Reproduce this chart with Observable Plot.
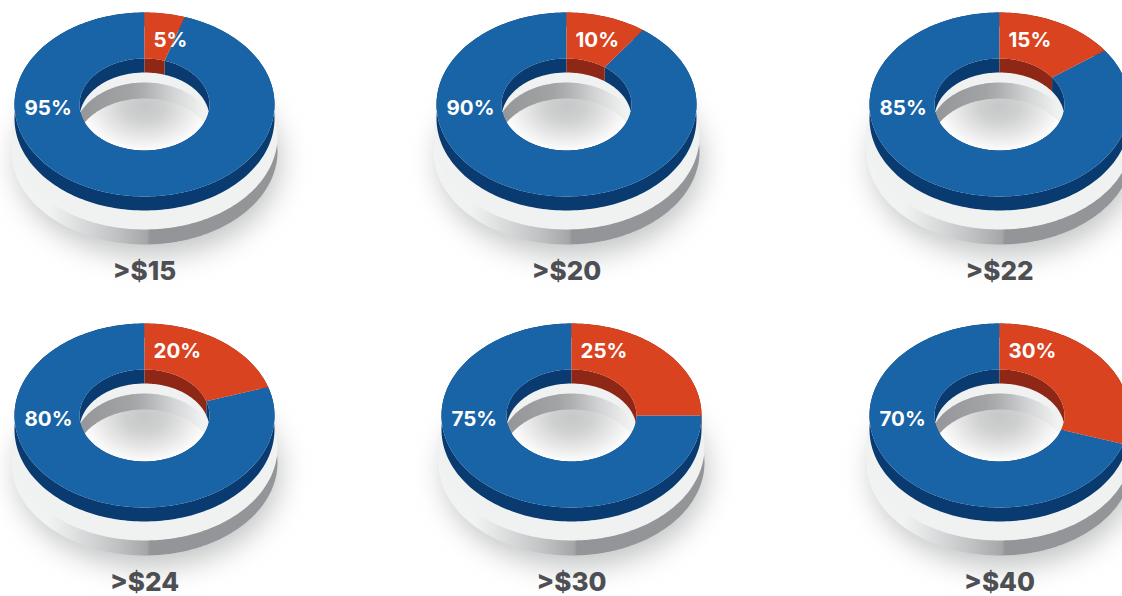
<!DOCTYPE html>
<html>
<head>
<meta charset="utf-8">
<script src="https://cdn.jsdelivr.net/npm/d3@7"></script>
<script src="https://cdn.jsdelivr.net/npm/@observablehq/plot@0.6"></script>
<style>html,body{margin:0;padding:0;background:#fff;overflow:hidden}svg{display:block}</style>
</head>
<body>
<script>
const thresholds = [">$15", ">$20", ">$22", ">$24", ">$30", ">$40"];
const abovePct = [5, 10, 15, 20, 25, 30];
const belowPct = [95, 90, 85, 80, 75, 70];

// layout of the small multiples
const centerX = [144, 566, 999, 144, 571, 999];
const centerY = [104, 104, 104, 415, 415, 415];
const RX = 130, RY = 92, IX = 65, IY = 46, DEPTH = 14;

function arc(cx, cy, a, b, from, to) {
  const n = Math.max(2, Math.ceil(Math.abs(to - from) / (Math.PI / 120)));
  return d3.range(n + 1).map(i => {
    const t = from + (to - from) * i / n;
    return {x: cx + a * Math.sin(t), y: cy - b * Math.cos(t)};
  });
}
const TAU = Math.PI * 2;
function ellipses(f) {
  return thresholds.flatMap((t, i) => {
    const e = f(centerX[i], centerY[i]);
    return arc(e[0], e[1], e[2], e[3], 0, TAU).map(p => ({...p, id: t}));
  });
}
const slices = thresholds.flatMap((t, i) => {
  const cut = abovePct[i] / (abovePct[i] + belowPct[i]) * TAU;
  return [
    {id: t + "a", kind: "above", cx: centerX[i], cy: centerY[i], a0: 0, a1: cut},
    {id: t + "b", kind: "below", cx: centerX[i], cy: centerY[i], a0: cut, a1: TAU}
  ];
});
const band = (s, a, b, cy0, a2, b2, cy1) =>
  [...arc(s.cx, cy0, a, b, s.a0, s.a1), ...arc(s.cx, cy1, a2, b2, s.a1, s.a0)]
    .map(p => ({...p, id: s.id, kind: s.kind}));
const topRows = slices.flatMap(s => band(s, RX, RY, s.cy, IX, IY, s.cy));
const outerSide = slices.flatMap(s => band(s, RX, RY, s.cy, RX, RY, s.cy + DEPTH));
const innerWall = slices.flatMap(s => band(s, IX, IY, s.cy, IX, IY, s.cy + DEPTH));

const shape = (data, fill, extra = {}) =>
  Plot.line(data, {x: "x", y: "y", z: "id", fill, stroke: "none", curve: "linear", ...extra});
const only = (data, kind) => data.filter(d => d.kind === kind);

const defs = () => {
  const svg = d3.create("svg:defs");
  const linear = (id, stops) => {
    const g = svg.append("linearGradient").attr("id", id);
    stops.forEach(([o, c]) => g.append("stop").attr("offset", o).attr("stop-color", c));
  };
  linear("baseSide", [[0, "#f1f2f2"], [0.14, "#f1f2f2"], [0.2, "#e6e7e7"], [0.4, "#c0c1c3"], [0.51, "#a4a6a8"], [0.52, "#939598"], [1, "#939598"]]);
  linear("holeWall", [[0, "#939598"], [0.4, "#a2a3a5"], [0.5, "#aeafb0"], [0.7, "#d2d3d4"], [0.92, "#f1f2f2"], [1, "#f1f2f2"]]);
  const r = svg.append("radialGradient").attr("id", "floor")
    .attr("cx", 0.5).attr("cy", 0.08).attr("r", 0.48);
  [[0, "#c6c7c8"], [0.3, "#cfd0d0"], [0.65, "#e9e9e9"], [0.95, "#ffffff"], [1, "#ffffff"]]
    .forEach(([o, c]) => r.append("stop").attr("offset", o).attr("stop-color", c));
  return svg.node();
};

const chart = Plot.plot({
  width: 1122, height: 596,
  margin: 0,
  style: {background: "#fff", overflow: "hidden"},
  x: {axis: null, domain: [0, 1122], range: [0, 1122]},
  y: {axis: null, domain: [0, 596], range: [0, 596]},
  marks: [
    defs,
    // soft shadow under the base
    shape(ellipses((x, y) => [x + 4, y + 56, 132, 96]), "#8a8b8d", {imageFilter: "blur(14px)", fillOpacity: 0.5}),
    // grey base
    shape(ellipses((x, y) => [x, y + 47, 133, 93]), "url(#baseSide)"),
    shape(ellipses((x, y) => [x, y + 32, 133, 93]), "#f0f2f2"),
    shape(ellipses((x, y) => [x, y + 28, 70, 50]), "url(#holeWall)"),
    shape(ellipses((x, y) => [x, y + 44, 70, 50]), "url(#floor)"),
    // blue / red ring
    shape(only(outerSide, "below"), "#0a3b70"),
    shape(only(outerSide, "above"), "#8e2716"),
    shape(only(innerWall, "below"), "#0a3b70"),
    shape(only(innerWall, "above"), "#8e2716"),
    shape(only(topRows, "below"), "#1964a7"),
    shape(only(topRows, "above"), "#d9431f"),
    // labels
    Plot.text(thresholds, {
      x: (d, i) => centerX[i] + 9, y: (d, i) => centerY[i] - 64,
      text: (d, i) => abovePct[i] + "%", textAnchor: "start", lineAnchor: "middle",
      fill: "#fff", fontFamily: "Inter", fontWeight: 700, fontSize: 20.5
    }),
    Plot.text(thresholds, {
      x: (d, i) => centerX[i] - 120, y: (d, i) => centerY[i] + 4,
      text: (d, i) => belowPct[i] + "%", textAnchor: "start", lineAnchor: "middle",
      fill: "#fff", fontFamily: "Inter", fontWeight: 700, fontSize: 20.5
    }),
    Plot.text(thresholds, {
      x: (d, i) => centerX[i], y: (d, i) => centerY[i] + 167,
      text: d => d, textAnchor: "middle", lineAnchor: "middle",
      fill: "#4d4f53", fontFamily: "Inter", fontWeight: 800, fontSize: 26
    })
  ]
});
document.body.append(chart);
</script>
</body>
</html>
